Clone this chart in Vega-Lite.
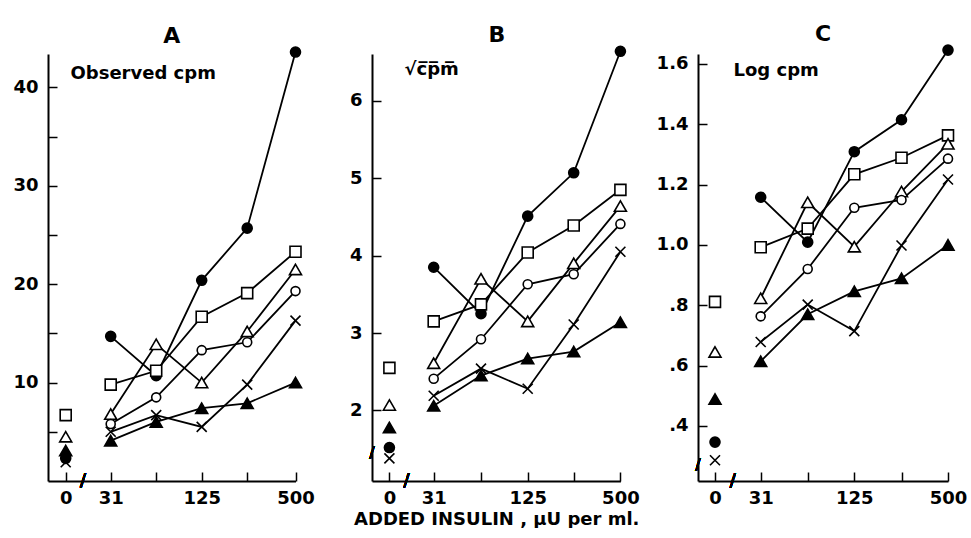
{
  "$schema": "https://vega.github.io/schema/vega-lite/v6.json",
  "background": "white",
  "padding": {"left": 12, "top": 22, "right": 0, "bottom": 0},
  "spacing": 76,
  "bounds": "flush",
  "config": {
    "view": {"stroke": null},
    "font": "DejaVu Sans",
    "axis": {
      "grid": false,
      "domainColor": "black",
      "domainWidth": 2,
      "tickColor": "black",
      "tickWidth": 1.5,
      "tickSize": -9,
      "labelColor": "black",
      "labelFont": "DejaVu Sans",
      "labelFontSize": 18,
      "labelFontWeight": "bold",
      "titleColor": "black",
      "titleFont": "DejaVu Sans",
      "titleFontSize": 18,
      "titleFontWeight": "bold"
    },
    "axisX": {"labelPadding": 17, "labelFlush": false, "labelOverlap": false},
    "axisY": {"labelPadding": 19, "labelOverlap": false, "titleAngle": 0, "titleAlign": "left", "titleBaseline": "alphabetic"},
    "title": {"font": "DejaVu Sans", "fontSize": 22, "fontWeight": "bold", "color": "black", "anchor": "middle", "offset": -4}
  },
  "datasets": {
    "A": [
      {"series": "filled circle", "dose": 0, "value": 2.3},
      {"series": "filled circle", "dose": 31, "value": 14.7},
      {"series": "filled circle", "dose": 62, "value": 10.7},
      {"series": "filled circle", "dose": 125, "value": 20.4},
      {"series": "filled circle", "dose": 250, "value": 25.7},
      {"series": "filled circle", "dose": 500, "value": 43.6},
      {"series": "open square", "dose": 0, "value": 6.7},
      {"series": "open square", "dose": 31, "value": 9.8},
      {"series": "open square", "dose": 62, "value": 11.2},
      {"series": "open square", "dose": 125, "value": 16.7},
      {"series": "open square", "dose": 250, "value": 19.1},
      {"series": "open square", "dose": 500, "value": 23.3},
      {"series": "open triangle", "dose": 0, "value": 4.5},
      {"series": "open triangle", "dose": 31, "value": 6.8},
      {"series": "open triangle", "dose": 62, "value": 13.9},
      {"series": "open triangle", "dose": 125, "value": 10.0},
      {"series": "open triangle", "dose": 250, "value": 15.2},
      {"series": "open triangle", "dose": 500, "value": 21.5},
      {"series": "open circle", "dose": 31, "value": 5.8},
      {"series": "open circle", "dose": 62, "value": 8.5},
      {"series": "open circle", "dose": 125, "value": 13.3},
      {"series": "open circle", "dose": 250, "value": 14.1},
      {"series": "open circle", "dose": 500, "value": 19.3},
      {"series": "cross", "dose": 0, "value": 1.9},
      {"series": "cross", "dose": 31, "value": 5.0},
      {"series": "cross", "dose": 62, "value": 6.7},
      {"series": "cross", "dose": 125, "value": 5.5},
      {"series": "cross", "dose": 250, "value": 9.8},
      {"series": "cross", "dose": 500, "value": 16.3},
      {"series": "filled triangle", "dose": 0, "value": 3.1},
      {"series": "filled triangle", "dose": 31, "value": 4.1},
      {"series": "filled triangle", "dose": 62, "value": 6.0},
      {"series": "filled triangle", "dose": 125, "value": 7.4},
      {"series": "filled triangle", "dose": 250, "value": 7.9},
      {"series": "filled triangle", "dose": 500, "value": 10.0}
    ],
    "B": [
      {"series": "filled circle", "dose": 0, "value": 1.52},
      {"series": "filled circle", "dose": 31, "value": 3.85},
      {"series": "filled circle", "dose": 62, "value": 3.25},
      {"series": "filled circle", "dose": 125, "value": 4.51},
      {"series": "filled circle", "dose": 250, "value": 5.07},
      {"series": "filled circle", "dose": 500, "value": 6.64},
      {"series": "open square", "dose": 0, "value": 2.55},
      {"series": "open square", "dose": 31, "value": 3.15},
      {"series": "open square", "dose": 62, "value": 3.37},
      {"series": "open square", "dose": 125, "value": 4.04},
      {"series": "open square", "dose": 250, "value": 4.39},
      {"series": "open square", "dose": 500, "value": 4.85},
      {"series": "open triangle", "dose": 0, "value": 2.07},
      {"series": "open triangle", "dose": 31, "value": 2.61},
      {"series": "open triangle", "dose": 62, "value": 3.70},
      {"series": "open triangle", "dose": 125, "value": 3.15},
      {"series": "open triangle", "dose": 250, "value": 3.90},
      {"series": "open triangle", "dose": 500, "value": 4.64},
      {"series": "open circle", "dose": 31, "value": 2.41},
      {"series": "open circle", "dose": 62, "value": 2.92},
      {"series": "open circle", "dose": 125, "value": 3.63},
      {"series": "open circle", "dose": 250, "value": 3.76},
      {"series": "open circle", "dose": 500, "value": 4.41},
      {"series": "cross", "dose": 0, "value": 1.38},
      {"series": "cross", "dose": 31, "value": 2.19},
      {"series": "cross", "dose": 62, "value": 2.54},
      {"series": "cross", "dose": 125, "value": 2.28},
      {"series": "cross", "dose": 250, "value": 3.11},
      {"series": "cross", "dose": 500, "value": 4.05},
      {"series": "filled triangle", "dose": 0, "value": 1.78},
      {"series": "filled triangle", "dose": 31, "value": 2.06},
      {"series": "filled triangle", "dose": 62, "value": 2.45},
      {"series": "filled triangle", "dose": 125, "value": 2.67},
      {"series": "filled triangle", "dose": 250, "value": 2.76},
      {"series": "filled triangle", "dose": 500, "value": 3.14}
    ],
    "C": [
      {"series": "filled circle", "dose": 0, "value": 0.346},
      {"series": "filled circle", "dose": 31, "value": 1.158},
      {"series": "filled circle", "dose": 62, "value": 1.009},
      {"series": "filled circle", "dose": 125, "value": 1.309},
      {"series": "filled circle", "dose": 250, "value": 1.415},
      {"series": "filled circle", "dose": 500, "value": 1.646},
      {"series": "open square", "dose": 0, "value": 0.811},
      {"series": "open square", "dose": 31, "value": 0.992},
      {"series": "open square", "dose": 62, "value": 1.054},
      {"series": "open square", "dose": 125, "value": 1.234},
      {"series": "open square", "dose": 250, "value": 1.289},
      {"series": "open square", "dose": 500, "value": 1.363},
      {"series": "open triangle", "dose": 0, "value": 0.645},
      {"series": "open triangle", "dose": 31, "value": 0.823},
      {"series": "open triangle", "dose": 62, "value": 1.141},
      {"series": "open triangle", "dose": 125, "value": 0.994},
      {"series": "open triangle", "dose": 250, "value": 1.177},
      {"series": "open triangle", "dose": 500, "value": 1.335},
      {"series": "open circle", "dose": 31, "value": 0.763},
      {"series": "open circle", "dose": 62, "value": 0.92},
      {"series": "open circle", "dose": 125, "value": 1.123},
      {"series": "open circle", "dose": 250, "value": 1.149},
      {"series": "open circle", "dose": 500, "value": 1.286},
      {"series": "cross", "dose": 0, "value": 0.286},
      {"series": "cross", "dose": 31, "value": 0.678},
      {"series": "cross", "dose": 62, "value": 0.802},
      {"series": "cross", "dose": 125, "value": 0.714},
      {"series": "cross", "dose": 250, "value": 0.998},
      {"series": "cross", "dose": 500, "value": 1.217},
      {"series": "filled triangle", "dose": 0, "value": 0.489},
      {"series": "filled triangle", "dose": 31, "value": 0.614},
      {"series": "filled triangle", "dose": 62, "value": 0.77},
      {"series": "filled triangle", "dose": 125, "value": 0.846},
      {"series": "filled triangle", "dose": 250, "value": 0.889},
      {"series": "filled triangle", "dose": 500, "value": 1.0}
    ]
  },
  "hconcat": [
    {
      "width": 247.5,
      "height": 427,
      "title": "A",
      "data": {"name": "A"},
      "encoding": {
        "x": {"field": "dose", "type": "quantitative",
              "scale": {"domain": [-1, 0, 31, 62, 125, 250, 500], "range": [0, 17.7, 62.7, 108.2, 153.7, 199.2, 247.5], "nice": false, "zero": false},
              "axis": {"values": [0, 31, 62, 125, 250, 500], "labelExpr": "datum.value == 62 || datum.value == 250 ? '' : datum.label", "title": null}},
        "y": {"field": "value", "type": "quantitative",
              "scale": {"domain": [0, 43.4], "nice": false, "zero": false},
              "axis": {"values": [5, 10, 15, 20, 25, 30, 35, 40], "labelExpr": "datum.value % 10 == 0 ? datum.label : ''", "title": "Observed cpm", "titleX": 22, "titleY": 24}}
      },
      "layer": [
        {"transform": [{"filter": "datum.dose > 0"}],
         "mark": {"type": "line", "color": "black", "strokeWidth": 1.8},
         "encoding": {"detail": {"field": "series"}}},
        {"mark": {"type": "point", "filled": true, "stroke": "black", "strokeWidth": 1.6, "opacity": 1},
         "encoding": {
           "shape": {"field": "series", "type": "nominal", "legend": null, "scale": {"domain": ["filled circle", "open square", "open triangle", "open circle", "cross", "filled triangle"], "range": ["circle", "square", "triangle-up", "circle", "M-1,-1L1,1M-1,1L1,-1", "triangle-up"]}},
           "fill": {"field": "series", "type": "nominal", "legend": null, "scale": {"domain": ["filled circle", "open square", "open triangle", "open circle", "cross", "filled triangle"], "range": ["black", "white", "white", "white", "black", "black"]}},
           "size": {"field": "series", "type": "nominal", "legend": null, "scale": {"type": "ordinal", "domain": ["filled circle", "open square", "open triangle", "open circle", "cross", "filled triangle"], "range": [100, 121, 144, 81, 100, 144]}}
         }},
        {"mark": {"type": "text", "text": "/", "fontSize": 18, "font": "DejaVu Sans", "color": "black", "baseline": "middle", "align": "center"},
         "encoding": {"x": {"datum": 12}, "y": {"datum": 0}}}
      ]
    },
    {
      "width": 250,
      "height": 427,
      "title": "B",
      "data": {"name": "B"},
      "encoding": {
        "x": {"field": "dose", "type": "quantitative",
              "scale": {"domain": [-1, 0, 31, 62, 125, 250, 500], "range": [0, 17.4, 61.7, 109, 155.7, 201.7, 248.4], "nice": false, "zero": false},
              "axis": {"values": [0, 31, 62, 125, 250, 500], "labelExpr": "datum.value == 62 || datum.value == 250 ? '' : datum.label", "title": "ADDED INSULIN , \u03bcU per ml.", "titlePadding": 3}},
        "y": {"field": "value", "type": "quantitative",
              "scale": {"domain": [1.088, 6.605], "nice": false, "zero": false},
              "axis": {"values": [2, 3, 4, 5, 6], "title": "\u221ac\u0305p\u0305m\u0305", "titleX": 32, "titleY": 20}}
      },
      "layer": [
        {"transform": [{"filter": "datum.dose > 0"}],
         "mark": {"type": "line", "color": "black", "strokeWidth": 1.8},
         "encoding": {"detail": {"field": "series"}}},
        {"mark": {"type": "point", "filled": true, "stroke": "black", "strokeWidth": 1.6, "opacity": 1},
         "encoding": {
           "shape": {"field": "series", "type": "nominal", "legend": null, "scale": {"domain": ["filled circle", "open square", "open triangle", "open circle", "cross", "filled triangle"], "range": ["circle", "square", "triangle-up", "circle", "M-1,-1L1,1M-1,1L1,-1", "triangle-up"]}},
           "fill": {"field": "series", "type": "nominal", "legend": null, "scale": {"domain": ["filled circle", "open square", "open triangle", "open circle", "cross", "filled triangle"], "range": ["black", "white", "white", "white", "black", "black"]}},
           "size": {"field": "series", "type": "nominal", "legend": null, "scale": {"type": "ordinal", "domain": ["filled circle", "open square", "open triangle", "open circle", "cross", "filled triangle"], "range": [100, 121, 144, 81, 100, 144]}}
         }},
        {"mark": {"type": "text", "text": "/", "fontSize": 18, "font": "DejaVu Sans", "color": "black", "baseline": "middle", "align": "center"},
         "encoding": {"x": {"datum": 12}, "y": {"datum": 1.088}}},
        {"mark": {"type": "text", "text": "/", "fontSize": 16, "font": "DejaVu Sans", "color": "black", "baseline": "middle", "align": "center"},
         "encoding": {"x": {"datum": -1}, "y": {"datum": 1.45}}}
      ]
    },
    {
      "width": 250,
      "height": 427,
      "title": "C",
      "data": {"name": "C"},
      "encoding": {
        "x": {"field": "dose", "type": "quantitative",
              "scale": {"domain": [-1, 0, 31, 62, 125, 250, 500], "range": [0, 17, 62.7, 109.7, 156.3, 203.5, 250], "nice": false, "zero": false},
              "axis": {"values": [0, 31, 62, 125, 250, 500], "labelExpr": "datum.value == 62 || datum.value == 250 ? '' : datum.label", "title": null}},
        "y": {"field": "value", "type": "quantitative",
              "scale": {"domain": [0.217, 1.633], "nice": false, "zero": false},
              "axis": {"values": [0.4, 0.6, 0.8, 1.0, 1.2, 1.4, 1.6], "labelExpr": "datum.value < 1 ? substring(format(datum.value, '.1f'), 1) : format(datum.value, '.1f')", "title": "Log cpm", "titleX": 35, "titleY": 21}}
      },
      "layer": [
        {"transform": [{"filter": "datum.dose > 0"}],
         "mark": {"type": "line", "color": "black", "strokeWidth": 1.8},
         "encoding": {"detail": {"field": "series"}}},
        {"mark": {"type": "point", "filled": true, "stroke": "black", "strokeWidth": 1.6, "opacity": 1},
         "encoding": {
           "shape": {"field": "series", "type": "nominal", "legend": null, "scale": {"domain": ["filled circle", "open square", "open triangle", "open circle", "cross", "filled triangle"], "range": ["circle", "square", "triangle-up", "circle", "M-1,-1L1,1M-1,1L1,-1", "triangle-up"]}},
           "fill": {"field": "series", "type": "nominal", "legend": null, "scale": {"domain": ["filled circle", "open square", "open triangle", "open circle", "cross", "filled triangle"], "range": ["black", "white", "white", "white", "black", "black"]}},
           "size": {"field": "series", "type": "nominal", "legend": null, "scale": {"type": "ordinal", "domain": ["filled circle", "open square", "open triangle", "open circle", "cross", "filled triangle"], "range": [100, 121, 144, 81, 100, 144]}}
         }},
        {"mark": {"type": "text", "text": "/", "fontSize": 18, "font": "DejaVu Sans", "color": "black", "baseline": "middle", "align": "center"},
         "encoding": {"x": {"datum": 12}, "y": {"datum": 0.217}}},
        {"mark": {"type": "text", "text": "/", "fontSize": 16, "font": "DejaVu Sans", "color": "black", "baseline": "middle", "align": "center"},
         "encoding": {"x": {"datum": -1}, "y": {"datum": 0.27}}}
      ]
    }
  ]
}
